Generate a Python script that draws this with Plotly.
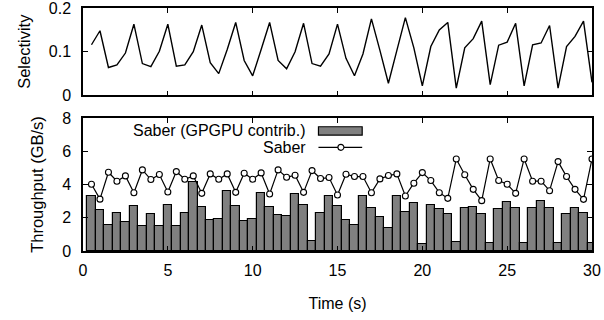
import plotly.graph_objects as go

# ---- data ----
time_s = [0.5 * (i + 1) for i in range(60)]

selectivity = [0.116, 0.148, 0.064, 0.070, 0.097, 0.163, 0.073, 0.066, 0.101, 0.163,
               0.067, 0.070, 0.100, 0.161, 0.075, 0.050, 0.105, 0.167, 0.080, 0.045,
               0.105, 0.167, 0.080, 0.061, 0.100, 0.165, 0.073, 0.067, 0.095, 0.163,
               0.085, 0.045, 0.095, 0.175, 0.103, 0.028, 0.103, 0.178, 0.109, 0.022,
               0.112, 0.150, 0.167, 0.017, 0.109, 0.130, 0.170, 0.025, 0.115, 0.122,
               0.165, 0.022, 0.116, 0.120, 0.160, 0.017, 0.112, 0.135, 0.170, 0.030]

gpgpu_contrib = [3.31, 2.47, 1.55, 2.27, 1.75, 2.71, 1.53, 2.23, 1.53, 2.79,
                 1.51, 2.31, 4.12, 2.63, 1.89, 1.93, 3.63, 2.73, 1.83, 1.91,
                 3.51, 2.63, 2.17, 2.09, 3.45, 2.75, 0.58, 2.31, 3.33, 2.71,
                 1.87, 1.59, 3.31, 2.61, 2.05, 1.37, 3.31, 2.35, 2.87, 0.42,
                 2.75, 2.55, 2.23, 0.52, 2.58, 2.67, 2.21, 0.50, 2.55, 2.93,
                 2.59, 0.50, 2.57, 2.99, 2.59, 0.46, 2.23, 2.57, 2.27, 0.46]

saber_total = [4.02, 3.12, 4.74, 4.20, 4.52, 3.51, 4.88, 4.30, 4.60, 3.55,
               4.78, 4.32, 4.52, 3.47, 4.64, 4.32, 4.64, 3.53, 4.68, 4.32,
               4.70, 3.43, 4.88, 4.44, 4.56, 3.53, 4.84, 4.36, 4.42, 3.37,
               4.62, 4.48, 4.48, 3.51, 4.34, 4.54, 4.64, 3.31, 4.08, 4.72,
               4.24, 3.51, 3.17, 5.54, 4.59, 3.71, 3.03, 5.54, 4.24, 4.02,
               3.47, 5.54, 4.20, 4.20, 3.63, 5.38, 4.48, 3.71, 3.11, 5.54]

x_ticks = [0, 5, 10, 15, 20, 25, 30]
sel_ticks = [0, 0.1, 0.2]
thr_ticks = [0, 2, 4, 6, 8]

FONT = "Liberation Sans, Arial, sans-serif"

fig = go.Figure()

fig.add_trace(go.Scatter(x=time_s, y=selectivity, mode="lines",
                         line=dict(color="black", width=1.4),
                         xaxis="x2", yaxis="y2", showlegend=False))

fig.add_trace(go.Bar(x=time_s, y=gpgpu_contrib, width=0.5,
                     marker=dict(color="#808080", line=dict(color="black", width=1.2)),
                     xaxis="x", yaxis="y", showlegend=False))

fig.add_trace(go.Scatter(x=time_s, y=saber_total, mode="lines+markers",
                         line=dict(color="black", width=1.2),
                         marker=dict(symbol="circle", size=6, color="white",
                                     line=dict(color="black", width=1.1)),
                         xaxis="x", yaxis="y", showlegend=False))

axis_common = dict(showline=True, linecolor="black", linewidth=1.5, mirror="ticks",
                   ticks="inside", ticklen=5, tickwidth=1, tickcolor="black",
                   showgrid=False, zeroline=False, automargin=False,
                   ticklabeloverflow="allow",
                   tickfont=dict(family=FONT, size=16, color="black"))

fig.update_layout(
    width=604, height=320,
    margin=dict(l=83, r=12, t=8, b=69),
    plot_bgcolor="white", paper_bgcolor="white",
    font=dict(family=FONT, size=16, color="black"),
    bargap=0,
    xaxis=dict(domain=[0, 1], range=[0, 30], tickvals=x_ticks, anchor="y",
               ticklabelstandoff=4,
               title=dict(text="Time (s)", standoff=20,
                          font=dict(family=FONT, size=16)),
               **axis_common),
    yaxis=dict(domain=[0, 0.547], range=[0, 8], tickvals=thr_ticks, anchor="x",
               ticklabelstandoff=7,
               title=dict(text="Throughput (GB/s)", standoff=14,
                          font=dict(family=FONT, size=16.5)),
               **axis_common),
    xaxis2=dict(domain=[0, 1], range=[0, 30], tickvals=x_ticks, anchor="y2",
                showticklabels=False, matches="x", **axis_common),
    yaxis2=dict(domain=[0.64, 1], range=[0, 0.2], tickvals=sel_ticks, anchor="x2",
                ticklabelstandoff=7,
                title=dict(text="Selectivity", standoff=14,
                           font=dict(family=FONT, size=16.5)),
                **axis_common),
)

# manual legend (text right-aligned, swatch to its right as in reference)
fig.add_annotation(xref="x domain", yref="y domain", x=0.4417, y=0.9045,
                   text="Saber (GPGPU contrib.)", showarrow=False,
                   xanchor="right", yanchor="middle",
                   font=dict(family=FONT, size=16, color="black"))
fig.add_annotation(xref="x domain", yref="y domain", x=0.4417, y=0.7797,
                   text="Saber", showarrow=False,
                   xanchor="right", yanchor="middle",
                   font=dict(family=FONT, size=16, color="black"))
fig.add_shape(type="rect", xref="x domain", yref="y domain",
              x0=0.4626, x1=0.5485, y0=0.8722, y1=0.9346,
              fillcolor="#808080", line=dict(color="black", width=1.2))
fig.add_shape(type="line", xref="x domain", yref="y domain",
              x0=0.4626, x1=0.5485, y0=0.7797, y1=0.7797,
              line=dict(color="black", width=1.2))
fig.add_shape(type="circle", xref="x domain", yref="y domain",
              x0=0.5067 - 0.0059, x1=0.5067 + 0.0059,
              y0=0.7797 - 0.0226, y1=0.7797 + 0.0226,
              fillcolor="white", line=dict(color="black", width=1.1))

fig.write_html("out.html", config={"displayModeBar": False},
               post_script="document.body.style.margin='0px';document.body.style.padding='0px';")
